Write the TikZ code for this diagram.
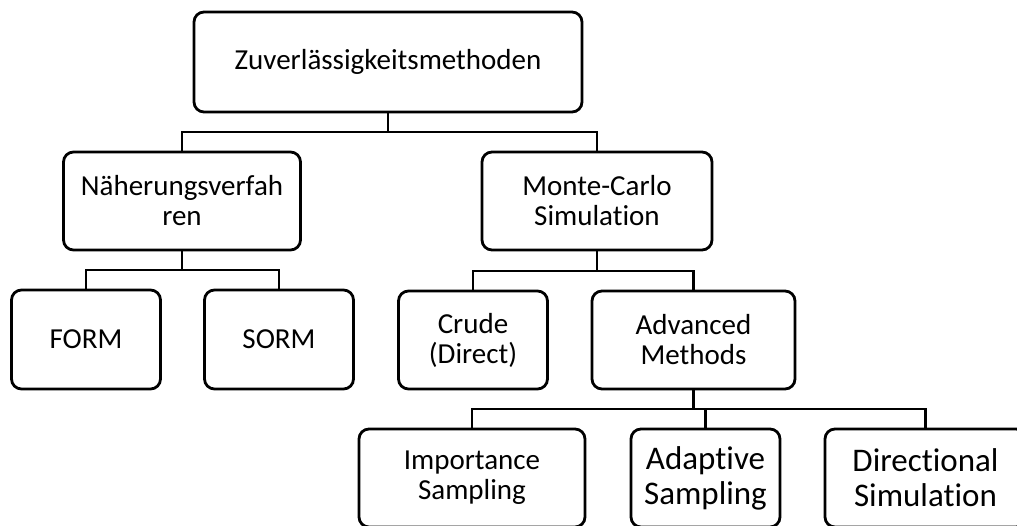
\documentclass[tikz,border=0pt]{standalone}
\usepackage{fontspec}
\setmainfont{Carlito}[Ligatures={NoCommon}]
\begin{document}
\begin{tikzpicture}[x=1pt,y=-1pt,
  box/.style={draw, line width=2.8pt, rounded corners=10pt, align=center,
    inner sep=0pt, outer sep=0pt, font=\fontsize{29}{30}\selectfont},
  bigtext/.style={font=\fontsize{33}{35}\selectfont},
  link/.style={line width=2.8pt}]
  \clip (0,0) rectangle (1017,525);

  % level 0
  \node[box, minimum width=388pt, minimum height=100pt] (root) at (388,62) {Zuverlässigkeitsmethoden};

  % level 1
  \node[box, minimum width=237pt, minimum height=98pt] (naeh) at (182,201) {Näherungsverfah\\ren};
  \node[box, minimum width=230pt, minimum height=98pt] (mc) at (597,201) {Monte-Carlo\\Simulation};

  % level 2
  \node[box, minimum width=149pt, minimum height=99pt] (form) at (86,339.5) {FORM};
  \node[box, minimum width=149pt, minimum height=99pt] (sorm) at (279,339.5) {SORM};
  \node[box, minimum width=149pt, minimum height=98pt] (crude) at (473,340) {Crude\\(Direct)};
  \node[box, minimum width=203pt, minimum height=98pt] (adv) at (693.5,340) {Advanced\\Methods};

  % level 3
  \node[box, minimum width=226pt, minimum height=98pt] (imp) at (472,478) {Importance\\Sampling};
  \node[box, bigtext, minimum width=149pt, minimum height=98pt] (ada) at (705.5,478) {Adaptive\\Sampling};
  \node[box, bigtext, minimum width=201pt, minimum height=98pt] (dir) at (925.5,478) {Directional\\Simulation};

  % tree connectors
  \draw[link] (root.south) -- ([yshift=-20pt]root.south);
  \draw[link] (naeh.north) |- ([yshift=-20pt]root.south) -| (mc.north);

  \draw[link] (naeh.south) -- ([yshift=-20pt]naeh.south);
  \draw[link] (form.north) |- ([yshift=-20pt]naeh.south) -| (sorm.north);

  \draw[link] (mc.south) -- ([yshift=-21pt]mc.south);
  \draw[link] (crude.north) |- ([yshift=-21pt]mc.south) -| (adv.north);

  \draw[link] (adv.south) -- ([yshift=-20pt]adv.south);
  \draw[link] (imp.north) |- ([yshift=-20pt]adv.south) -| (dir.north);
  \draw[link] ([yshift=-20pt]adv.south) -| (ada.north);
\end{tikzpicture}
\end{document}
